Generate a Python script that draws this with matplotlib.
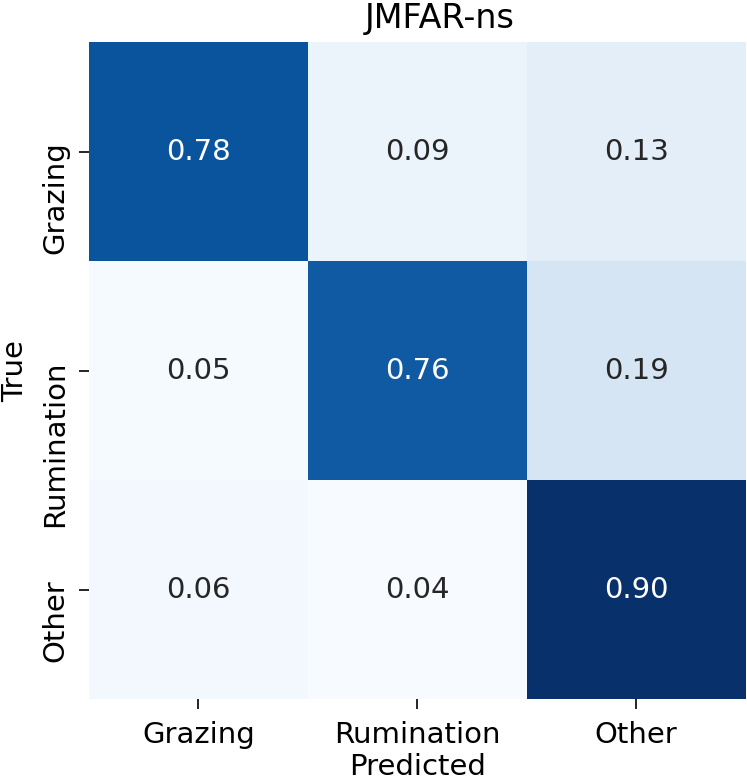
import matplotlib
matplotlib.use("Agg")
import matplotlib.pyplot as plt
import matplotlib.transforms as mtransforms
import seaborn as sns
import numpy as np

# confusion matrix values (row = true, col = predicted)
labels = ["Grazing", "Rumination", "Other"]
row_grazing = [0.78, 0.09, 0.13]
row_rumination = [0.05, 0.76, 0.19]
row_other = [0.06, 0.04, 0.90]

cm = np.array([row_grazing, row_rumination, row_other])

fig = plt.figure(figsize=(7.47, 7.82), dpi=100)
ax = fig.add_axes([0.119, 0.106, 0.879, 0.840])

sns.heatmap(cm, annot=True, fmt=".2f", cmap="Blues", cbar=False,
            xticklabels=labels, yticklabels=labels, ax=ax,
            annot_kws={"fontsize": 21})

ax.set_title("JMFAR-ns", fontsize=24, pad=10, x=0.535)
ax.set_xlabel("Predicted", fontsize=21, labelpad=3)
ax.set_ylabel("True", fontsize=21, labelpad=9)
ax.tick_params(axis="both", labelsize=21, length=7, width=1.2)
ax.tick_params(axis="x", pad=9)
ax.tick_params(axis="y", pad=7)

# y labels rotated, top end sitting just above the tick
shift = mtransforms.ScaledTranslation(0, 10 / 100, fig.dpi_scale_trans)
for t in ax.get_yticklabels():
    t.set_rotation(90)
    t.set_va("top")
    t.set_transform(t.get_transform() + shift)

fig.savefig("out.png", dpi=100)
